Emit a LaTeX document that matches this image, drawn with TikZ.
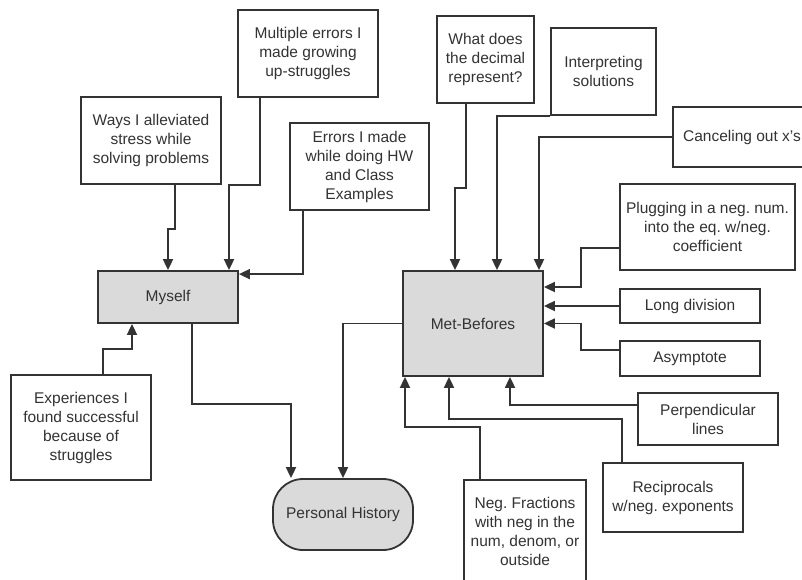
\documentclass[tikz,border=0pt]{standalone}
\usepackage{fontspec}
\setmainfont{Liberation Sans}
\usetikzlibrary{arrows.meta}
\definecolor{ink}{HTML}{333333}
\definecolor{boxgray}{HTML}{DADADA}
\frenchspacing
\begin{document}
\begin{tikzpicture}[x=1pt,y=-1pt,
  every node/.style={font=\fontsize{15.5}{19}\selectfont, text=ink},
  box/.style={draw=ink, line width=1.8pt, fill=white, align=center, inner sep=0pt},
  hub/.style={box, fill=boxgray},
  arr/.style={draw=ink, line width=1.8pt, -{Triangle[length=11pt,width=10pt]}}]
\useasboundingbox (0,0) rectangle (802,579);
% Left cluster
\node[box, minimum width=140, minimum height=87] (mult) at (308,53.5) {Multiple errors I\\made growing\\up-struggles};
\node[box, minimum width=140, minimum height=87] (ways) at (151,140.5) {Ways I alleviated\\stress while\\solving problems};
\node[box, minimum width=139, minimum height=87] (errs) at (359.5,166.5) {Errors I made\\while doing HW\\and Class\\Examples};
\node[hub, minimum width=140, minimum height=52] (myself) at (168,297) {Myself};
\node[box, minimum width=140, minimum height=105] (exper) at (81,427.5) {Experiences I\\found successful\\because of\\struggles};
\node[draw=ink, line width=1.8pt, fill=boxgray, rounded corners=30pt, minimum width=140, minimum height=71, inner sep=0pt] (ph) at (343,514.5) {Personal History};
% Right cluster
\node[box, minimum width=97, minimum height=87] (whatd) at (485.5,59.5) {What does\\the decimal\\represent?};
\node[box, minimum width=105, minimum height=87] (interp) at (603.5,71.5) {Interpreting\\solutions};
\node[box, minimum width=138, minimum height=60] (cancel) at (742,137) {Canceling out x's};
\node[box, minimum width=175, minimum height=86] (plug) at (707.5,227) {Plugging in a neg. num.\\into the eq. w/neg.\\coefficient};
\node[hub, minimum width=140, minimum height=105] (met) at (473,323.5) {Met-Befores};
\node[box, minimum width=140, minimum height=34] (longd) at (690,306) {Long division};
\node[box, minimum width=140, minimum height=35] (asym) at (690,358.5) {Asymptote};
\node[box, minimum width=140, minimum height=52] (perp) at (708,419) {Perpendicular\\lines};
\node[box, minimum width=140, minimum height=69] (recip) at (673,497.5) {Reciprocals\\w/neg. exponents};
\node[box, minimum width=122, minimum height=102] (negf) at (525,531) {Neg. Fractions\\with neg in the\\num, denom, or\\outside};
% Connectors to Myself
\draw[arr] ([xshift=24pt]ways.south) -- ++(0,44) -| (myself.north);
\draw[arr] ([xshift=-48pt]mult.south) -- ++(0,87) -| ([xshift=61pt]myself.north);
\draw[arr] ([xshift=-56.5pt]errs.south) |- ([yshift=-4pt]myself.north east);
\draw[arr] ([xshift=22pt]exper.north) -- ++(0,-25) -| ([xshift=-36pt]myself.south);
% To Personal History
\draw[arr] ([xshift=24pt]myself.south) -- ++(0,80) -| ([xshift=-52pt]ph.north);
\draw[arr] (met.west) -| (ph.north);
% Connectors to Met-Befores
\draw[arr] ([xshift=-19.5pt]whatd.south) -- ++(0,84) -| ([xshift=-18pt]met.north);
\draw[arr] (interp.south west) -| ([xshift=24pt]met.north);
\draw[arr] (cancel.west) -| ([xshift=66pt]met.north);
\draw[arr] ([yshift=-21pt]plug.west) -- ++(-38,0) |- ([yshift=36.5pt]met.east);
\draw[arr] (longd.west) -- (longd.west -| met.east);
\draw[arr] ([yshift=8.5pt]asym.west) -- ++(-38,0) |- (met.east);
\draw[arr] ([yshift=14pt]perp.west) -| ([xshift=37pt]met.south);
\draw[arr] ([xshift=-51pt]recip.north) -- ++(0,-43.5) -| ([xshift=-24pt]met.south);
\draw[arr] ([xshift=-45pt]negf.north) -- ++(0,-52) -| ([xshift=-68pt]met.south);
\end{tikzpicture}
\end{document}
